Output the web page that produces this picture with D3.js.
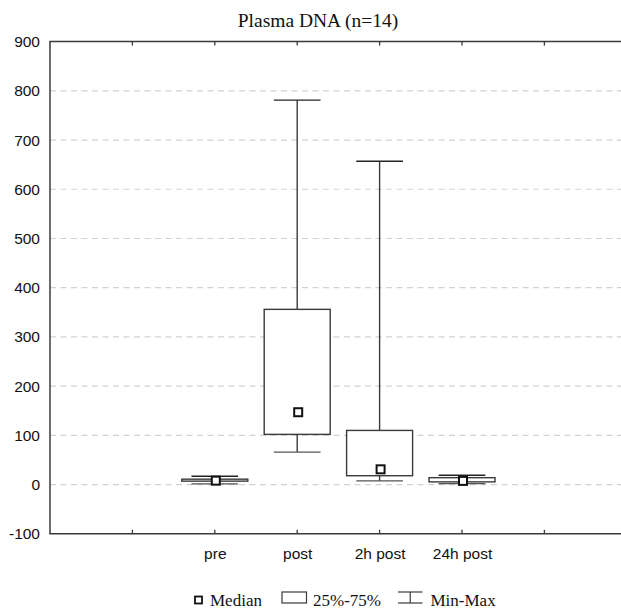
<!DOCTYPE html>
<html>
<head>
<meta charset="utf-8">
<script src="https://cdn.jsdelivr.net/npm/d3@7"></script>
<style>
  html, body { margin: 0; padding: 0; background: #fff; }
  svg { display: block; }
</style>
</head>
<body>
<svg id="chart" width="621" height="609"></svg>
<script>
const categories = ["pre", "post", "2h post", "24h post"];
const categoryPos = [2, 3, 4, 5];
const minVals = [1.5, 66, 7.5, 2];
const q1Vals = [7, 102, 18, 5.5];
const medianVals = [8, 147, 31, 7.5];
const q3Vals = [11, 356, 110, 14];
const maxVals = [17, 781, 657, 19];
const yTicks = [-100, 0, 100, 200, 300, 400, 500, 600, 700, 800, 900];
const xTickPos = [1, 2, 3, 4, 5, 6, 7];

(function () {
const svg = d3.select("#chart");
const pLeft = 50, pRight = 626.8, pTop = 41.6, pBottom = 533.8;

const x = d3.scaleLinear().domain([0, 7]).range([pLeft, pRight]);
const y = d3.scaleLinear().domain([-100, 900]).range([pBottom, pTop]);

const ink = "#3a3a3a";

// grid lines
svg.append("g").selectAll("line")
  .data(yTicks.filter(v => v > -100 && v < 900))
  .join("line")
  .attr("x1", pLeft).attr("x2", 621)
  .attr("y1", d => y(d)).attr("y2", d => y(d))
  .attr("stroke", "#d2d2d2").attr("stroke-width", 1.2)
  .attr("stroke-dasharray", "6,4.5");

// axes frame
svg.append("line").attr("x1", pLeft).attr("x2", pLeft).attr("y1", pTop).attr("y2", pBottom)
  .attr("stroke", ink).attr("stroke-width", 1.5);
svg.append("line").attr("x1", pLeft - 0.75).attr("x2", 621).attr("y1", pTop).attr("y2", pTop)
  .attr("stroke", ink).attr("stroke-width", 1.5);
svg.append("line").attr("x1", pLeft - 0.75).attr("x2", 621).attr("y1", pBottom).attr("y2", pBottom)
  .attr("stroke", ink).attr("stroke-width", 1.5);

// top & bottom inward ticks
const tg = svg.append("g");
tg.selectAll("line.t").data(xTickPos).join("line").attr("class", "t")
  .attr("x1", d => x(d)).attr("x2", d => x(d))
  .attr("y1", pTop).attr("y2", pTop + 4)
  .attr("stroke", ink).attr("stroke-width", 1.3);
tg.selectAll("line.b").data(xTickPos).join("line").attr("class", "b")
  .attr("x1", d => x(d)).attr("x2", d => x(d))
  .attr("y1", pBottom).attr("y2", pBottom - 4)
  .attr("stroke", ink).attr("stroke-width", 1.3);

// y labels
svg.append("g").selectAll("text").data(yTicks).join("text")
  .attr("x", 40).attr("y", d => y(d))
  .attr("text-anchor", "end").attr("dominant-baseline", "central")
  .attr("font-family", "'Liberation Sans', Arial, sans-serif")
  .attr("font-size", 15.5).attr("fill", "#111")
  .text(d => d);

// x labels
svg.append("g").selectAll("text").data(categories).join("text")
  .attr("x", (d, i) => x(categoryPos[i]) + 0.5).attr("y", 559)
  .attr("text-anchor", "middle")
  .attr("font-family", "'Liberation Sans', Arial, sans-serif")
  .attr("font-size", 15.5).attr("fill", "#111")
  .text(d => d);

// title
svg.append("text").attr("x", 318).attr("y", 26.5)
  .attr("text-anchor", "middle")
  .attr("font-family", "'Liberation Serif', 'Times New Roman', serif")
  .attr("font-size", 19.5).attr("fill", "#111")
  .text("Plasma DNA (n=14)");

// boxes
const boxW = 66, capW = 46.7, sq = 8;
const boxes = svg.append("g");
categories.forEach((c, i) => {
  const cx = x(categoryPos[i]);
  const g = boxes.append("g");
  g.append("line").attr("x1", cx).attr("x2", cx)
    .attr("y1", y(maxVals[i])).attr("y2", y(q3Vals[i]))
    .attr("stroke", ink).attr("stroke-width", 1.4);
  g.append("line").attr("x1", cx).attr("x2", cx)
    .attr("y1", y(q1Vals[i])).attr("y2", y(minVals[i]))
    .attr("stroke", ink).attr("stroke-width", 1.4);
  g.append("line").attr("x1", cx - capW / 2).attr("x2", cx + capW / 2)
    .attr("y1", y(maxVals[i])).attr("y2", y(maxVals[i]))
    .attr("stroke", "#222").attr("stroke-width", 1.4);
  g.append("line").attr("x1", cx - capW / 2).attr("x2", cx + capW / 2)
    .attr("y1", y(minVals[i])).attr("y2", y(minVals[i]))
    .attr("stroke", "#555").attr("stroke-width", 1.4);
  g.append("rect").attr("x", cx - boxW / 2).attr("y", y(q3Vals[i]))
    .attr("width", boxW).attr("height", Math.max(1, y(q1Vals[i]) - y(q3Vals[i])))
    .attr("fill", "#fff").attr("stroke", ink).attr("stroke-width", 1.4);
  g.append("rect").attr("x", cx - sq / 2 + 1).attr("y", y(medianVals[i]) - sq / 2)
    .attr("width", sq).attr("height", sq)
    .attr("fill", "#fff").attr("stroke", "#111").attr("stroke-width", 2);
});

// legend
const lg = svg.append("g");
const lf = "'Liberation Serif', 'Times New Roman', serif";
lg.append("rect").attr("x", 195).attr("y", 596.5).attr("width", 7).attr("height", 7)
  .attr("fill", "#fff").attr("stroke", "#111").attr("stroke-width", 1.8);
lg.append("text").attr("x", 210).attr("y", 605.5).attr("font-family", lf)
  .attr("font-size", 17).attr("fill", "#111").text("Median");
lg.append("rect").attr("x", 282).attr("y", 592).attr("width", 24.5).attr("height", 11)
  .attr("fill", "#fff").attr("stroke", ink).attr("stroke-width", 1.2);
lg.append("text").attr("x", 313).attr("y", 605.5).attr("font-family", lf)
  .attr("font-size", 17).attr("fill", "#111").text("25%-75%");
lg.append("line").attr("x1", 398).attr("x2", 422.5).attr("y1", 592).attr("y2", 592)
  .attr("stroke", ink).attr("stroke-width", 1.2);
lg.append("line").attr("x1", 398).attr("x2", 422.5).attr("y1", 603).attr("y2", 603)
  .attr("stroke", ink).attr("stroke-width", 1.2);
lg.append("line").attr("x1", 410.25).attr("x2", 410.25).attr("y1", 592).attr("y2", 603)
  .attr("stroke", ink).attr("stroke-width", 1.2);
lg.append("text").attr("x", 430.5).attr("y", 605.5).attr("font-family", lf)
  .attr("font-size", 17).attr("fill", "#111").text("Min-Max");
})();
</script>
</body>
</html>
